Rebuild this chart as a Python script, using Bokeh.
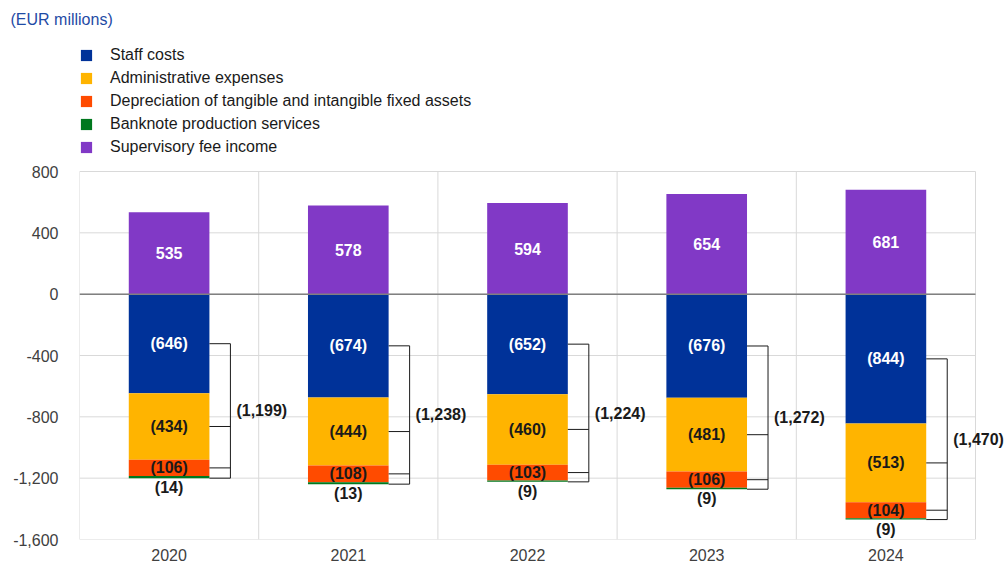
import numpy as np
from bokeh.plotting import figure
from bokeh.models import (FixedTicker, NumeralTickFormatter, Legend, LegendItem, Range1d)
from bokeh.core.properties import value
from bokeh.embed import file_html
from bokeh.resources import INLINE

years = ["2020", "2021", "2022", "2023", "2024"]
supervisory_fee = [535, 578, 594, 654, 681]
staff_costs = [646, 674, 652, 676, 844]
admin_expenses = [434, 444, 460, 481, 513]
depreciation = [106, 108, 103, 106, 104]
banknote = [14, 13, 9, 9, 9]
totals = [1199, 1238, 1224, 1272, 1470]
y_ticks = [-1600, -1200, -800, -400, 0, 400, 800]

FONT = "Liberation Sans"
C_STAFF = "#003299"
C_ADMIN = "#FFB400"
C_DEP = "#FF4B00"
C_BANK = "#00781E"
C_SUP = "#8139C6"
GRID = "#d9d9d9"

# layout (pixels)
FIG_W, FIG_H = 1004, 565
PLOT_L, PLOT_R, PLOT_T, PLOT_B = 79, 975, 171, 539   # visible plotting box
FRAME_T = 32

n = len(years)
y_lo, y_hi = min(y_ticks), max(y_ticks)
upp = (y_hi - y_lo) / (PLOT_B - PLOT_T)          # data units per pixel (y)
xpp = n / (PLOT_R - PLOT_L)                      # data units per pixel (x)
y_top = y_hi + (PLOT_T - FRAME_T) * upp
x_right = n + (FIG_W - PLOT_R) * xpp

xc = np.arange(n) + 0.5
s = np.array(staff_costs, float)
a = np.array(admin_expenses, float)
d = np.array(depreciation, float)
b = np.array(banknote, float)
sup = np.array(supervisory_fee, float)

c1 = -s
c2 = c1 - a
c3 = c2 - d
c4 = c3 - b

p = figure(width=FIG_W, height=FIG_H, output_backend="svg", toolbar_location=None,
           x_range=Range1d(0, x_right), y_range=Range1d(y_lo, y_top),
           min_border_left=PLOT_L, min_border_right=0, min_border_top=FRAME_T,
           min_border_bottom=FIG_H - PLOT_B)
p.outline_line_color = None
p.background_fill_color = "white"
p.xgrid.grid_line_color = None
p.ygrid.grid_line_color = None

# grid lines (drawn manually so they stop at the plotting box)
yt = np.array(y_ticks, float)
p.segment(x0=np.zeros(len(yt)), y0=yt, x1=np.full(len(yt), n), y1=yt, line_color=GRID, line_width=1)
xg = np.arange(n + 1, dtype=float)
p.segment(x0=xg, y0=np.full(n + 1, y_lo), x1=xg, y1=np.full(n + 1, y_hi), line_color=GRID, line_width=1)

W = 0.45
r_sup = p.vbar(x=xc, top=sup, bottom=0, width=W, color=C_SUP, line_color=None)
r_staff = p.vbar(x=xc, top=0, bottom=c1, width=W, color=C_STAFF, line_color=None)
r_admin = p.vbar(x=xc, top=c1, bottom=c2, width=W, color=C_ADMIN, line_color=None)
r_dep = p.vbar(x=xc, top=c2, bottom=c3, width=W, color=C_DEP, line_color=None)
r_bank = p.vbar(x=xc, top=c3, bottom=c4, width=W, color=C_BANK, line_color=None)

# zero line
p.segment(x0=[0], y0=[0], x1=[n], y1=[0], line_color="#808080", line_width=1.5)

def fmt(v):
    return "({:,})".format(int(v))

lbl = dict(text_font=value(FONT), text_font_size="16px", text_font_style="bold",
           text_align="center", text_baseline="middle")
p.text(x=xc, y=sup / 2, text=[str(v) for v in supervisory_fee], text_color="white", **lbl)
p.text(x=xc, y=c1 / 2, text=[fmt(v) for v in staff_costs], text_color="white", **lbl)
p.text(x=xc, y=(c1 + c2) / 2, text=[fmt(v) for v in admin_expenses], text_color="#1a1a1a", **lbl)
p.text(x=xc, y=(c2 + c3) / 2, text=[fmt(v) for v in depreciation], text_color="#1a1a1a", **lbl)
lbl_b = dict(lbl)
lbl_b["text_baseline"] = "top"
p.text(x=xc, y=c4, y_offset=1, text=[fmt(v) for v in banknote], text_color="#1a1a1a", **lbl_b)

# brackets
bx0 = xc + W / 2
bx1 = xc + W / 2 + 21 * xpp
for yy in [c1 / 2, (c1 + c2) / 2, (c2 + c3) / 2, c4]:
    p.segment(x0=bx0, y0=yy, x1=bx1, y1=yy, line_color="#1a1a1a", line_width=1)
p.segment(x0=bx1, y0=c1 / 2, x1=bx1, y1=c4, line_color="#1a1a1a", line_width=1)
lbl_t = dict(lbl)
lbl_t["text_align"] = "left"
p.text(x=bx1 + 6 * xpp, y=(c1 / 2 + c4) / 2, text=[fmt(v) for v in totals], text_color="#1a1a1a", **lbl_t)

# axes
p.xaxis.ticker = FixedTicker(ticks=list(xc))
p.xaxis.major_label_overrides = {float(x): y for x, y in zip(xc, years)}
p.yaxis.ticker = FixedTicker(ticks=y_ticks)
p.yaxis.formatter = NumeralTickFormatter(format="0,0")
for ax in (p.xaxis[0], p.yaxis[0]):
    ax.axis_line_color = None
    ax.major_tick_line_color = None
    ax.minor_tick_line_color = None
    ax.major_label_text_font = FONT
    ax.major_label_text_font_size = "16px"
    ax.major_label_text_color = "#404040"
p.xaxis.major_label_standoff = 3
p.yaxis.major_label_standoff = 15

items = [LegendItem(label="Staff costs", renderers=[r_staff]),
         LegendItem(label="Administrative expenses", renderers=[r_admin]),
         LegendItem(label="Depreciation of tangible and intangible fixed assets", renderers=[r_dep]),
         LegendItem(label="Banknote production services", renderers=[r_bank]),
         LegendItem(label="Supervisory fee income", renderers=[r_sup])]
legend = Legend(items=items, location=(0, PLOT_B - 156), margin=0, padding=0,
                glyph_width=14, glyph_height=14, label_height=19, spacing=4,
                label_standoff=17, border_line_color=None, background_fill_alpha=0,
                label_text_font=FONT, label_text_font_size="16px", label_text_color="#1a1a1a")
p.add_layout(legend, "center")

p.title.text = "(EUR millions)"
p.title.text_font = FONT
p.title.text_font_size = "16px"
p.title.text_font_style = "normal"
p.title.text_color = "#1F4BA5"
p.title.align = "left"
p.title.offset = 10 - PLOT_L

open("out.html", "w").write(file_html(p, INLINE))
